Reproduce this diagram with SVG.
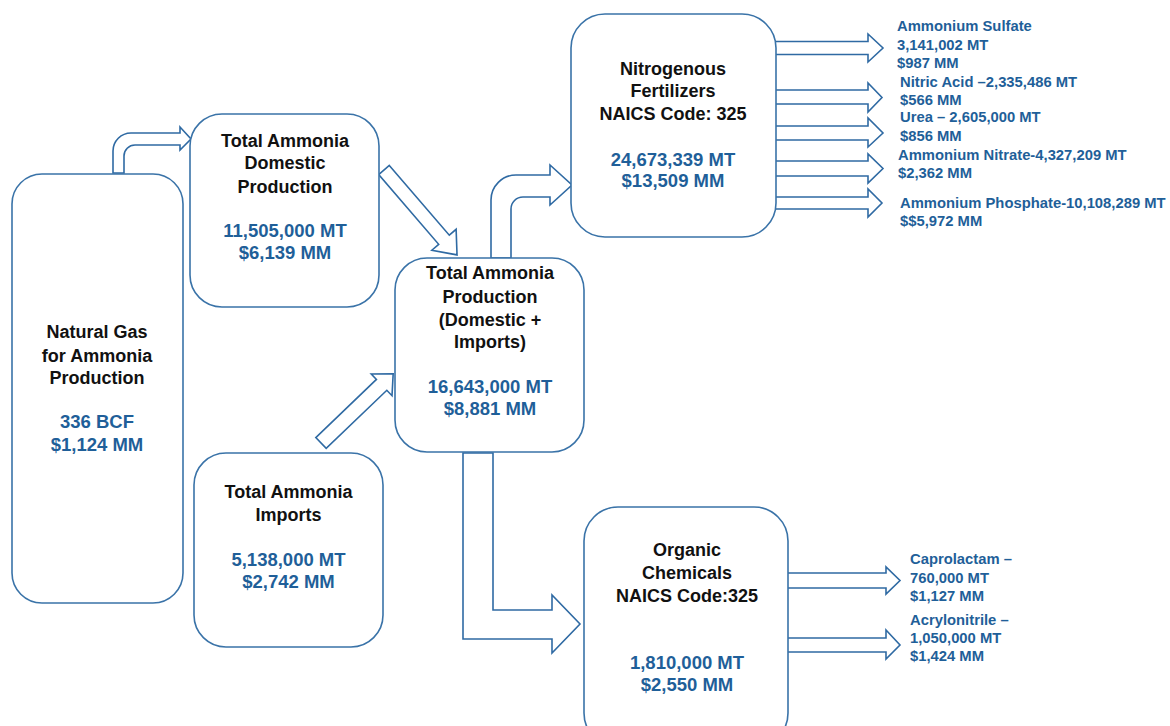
<svg xmlns="http://www.w3.org/2000/svg" width="1170" height="726" viewBox="0 0 1170 726">
<style>
.node{fill:#fff;stroke:#3A73A8;stroke-width:1.6}
.arr{fill:#fff;stroke:#2F6AA3;stroke-width:1.6;stroke-linejoin:miter}
.t{font-family:"Liberation Sans",Arial,sans-serif;font-weight:bold;font-size:18px;fill:#111;text-anchor:middle}
.v{font-family:"Liberation Sans",Arial,sans-serif;font-weight:bold;font-size:18.5px;fill:#1F5F99;text-anchor:middle}
.l{font-family:"Liberation Sans",Arial,sans-serif;font-weight:bold;font-size:14.8px;fill:#1F5F99}
</style>
<rect width="1170" height="726" fill="#fff"/>
<g id="connectors">
<path class="arr" d="M113,173 L113,151 A18 18 0 0 1 131,133 L180,133 L180,127 L191,139 L180,150 L180,145 L135,145 A11 11 0 0 0 124,156 L124,173 Z"/>
<polygon class="arr" transform="translate(384,170) rotate(49.3)" points="0,-7 92,-7 92,-16 112,0 92,16 92,7 0,7"/>
<polygon class="arr" transform="translate(321,443) rotate(-43.8)" points="0,-7.5 84,-7.5 84,-15 100,0 84,15 84,7.5 0,7.5"/>
<path class="arr" d="M491,258 L491,200 A25 25 0 0 1 516,175 L550,175 L550,165 L572,185 L550,205 L550,197 L523,197 A12 12 0 0 0 511,209 L511,258 Z"/>
<path class="arr" d="M463,453 L463,639 L552,639 L552,653 L580,624 L552,595 L552,610 L493,610 L493,453 Z"/>
<polygon class="arr" points="770,41.5 868,41.5 868,34 883,48 868,62 868,54.5 770,54.5"/>
<polygon class="arr" points="770,90 868,90 868,83 882,97.5 868,112 868,104 770,104"/>
<polygon class="arr" points="770,126 868,126 868,118 883,133 868,147 868,140 770,140"/>
<polygon class="arr" points="770,161 868,161 868,154 883,168.5 868,183 868,176 770,176"/>
<polygon class="arr" points="770,197 868,197 868,189 882,203 868,217 868,209 770,209"/>
<polygon class="arr" points="780,573 886,573 886,567 900,580.5 886,594 886,588 780,588"/>
<polygon class="arr" points="780,638 886,638 886,630 900,645 886,659 886,652 780,652"/>
</g>
<g id="natural-gas">
<rect class="node" x="12" y="174" width="171" height="429" rx="30"/>
<text class="t" x="97" y="338">Natural Gas</text>
<text class="t" x="97" y="362">for Ammonia</text>
<text class="t" x="97" y="384">Production</text>
<text class="v" x="97" y="428">336 BCF</text>
<text class="v" x="97" y="451">$1,124 MM</text>
</g>
<g id="domestic">
<rect class="node" x="190" y="114" width="189" height="193" rx="32"/>
<text class="t" x="285" y="147">Total Ammonia</text>
<text class="t" x="285" y="169">Domestic</text>
<text class="t" x="285" y="193">Production</text>
<text class="v" x="285" y="237">11,505,000 MT</text>
<text class="v" x="285" y="259">$6,139 MM</text>
</g>
<g id="imports">
<rect class="node" x="194" y="453" width="189" height="194" rx="32"/>
<text class="t" x="288.5" y="498">Total Ammonia</text>
<text class="t" x="288.5" y="521">Imports</text>
<text class="v" x="288.5" y="566">5,138,000 MT</text>
<text class="v" x="288.5" y="588">$2,742 MM</text>
</g>
<g id="total">
<rect class="node" x="395" y="258" width="189" height="194" rx="32"/>
<text class="t" x="490" y="279">Total Ammonia</text>
<text class="t" x="490" y="303">Production</text>
<text class="t" x="490" y="326">(Domestic +</text>
<text class="t" x="490" y="348">Imports)</text>
<text class="v" x="490" y="393">16,643,000 MT</text>
<text class="v" x="490" y="415">$8,881 MM</text>
</g>
<g id="fertilizers">
<rect class="node" x="571" y="14" width="205" height="223" rx="34"/>
<text class="t" x="673" y="75">Nitrogenous</text>
<text class="t" x="673" y="97">Fertilizers</text>
<text class="t" x="673" y="120">NAICS Code: 325</text>
<text class="v" x="673" y="166">24,673,339 MT</text>
<text class="v" x="673" y="187">$13,509 MM</text>
</g>
<g id="organic">
<rect class="node" x="584" y="507" width="204" height="240" rx="34"/>
<text class="t" x="687" y="556">Organic</text>
<text class="t" x="687" y="579">Chemicals</text>
<text class="t" x="687" y="602">NAICS Code:325</text>
<text class="v" x="687" y="669">1,810,000 MT</text>
<text class="v" x="687" y="691">$2,550 MM</text>
</g>
<g id="fertilizer-products">
<text class="l" x="897" y="31">Ammonium Sulfate</text>
<text class="l" x="897" y="50">3,141,002 MT</text>
<text class="l" x="897" y="68">$987 MM</text>
<text class="l" x="900" y="87">Nitric Acid –2,335,486 MT</text>
<text class="l" x="900" y="105">$566 MM</text>
<text class="l" x="900" y="122">Urea – 2,605,000 MT</text>
<text class="l" x="900" y="141">$856 MM</text>
<text class="l" x="898" y="160">Ammonium Nitrate-4,327,209 MT</text>
<text class="l" x="898" y="178">$2,362 MM</text>
<text class="l" x="900" y="208">Ammonium Phosphate-10,108,289 MT</text>
<text class="l" x="900" y="226">$$5,972 MM</text>
</g>
<g id="organic-products">
<text class="l" x="910" y="564">Caprolactam –</text>
<text class="l" x="910" y="583">760,000 MT</text>
<text class="l" x="910" y="601">$1,127 MM</text>
<text class="l" x="910" y="625">Acrylonitrile –</text>
<text class="l" x="910" y="643">1,050,000 MT</text>
<text class="l" x="910" y="661">$1,424 MM</text>
</g>
</svg>
